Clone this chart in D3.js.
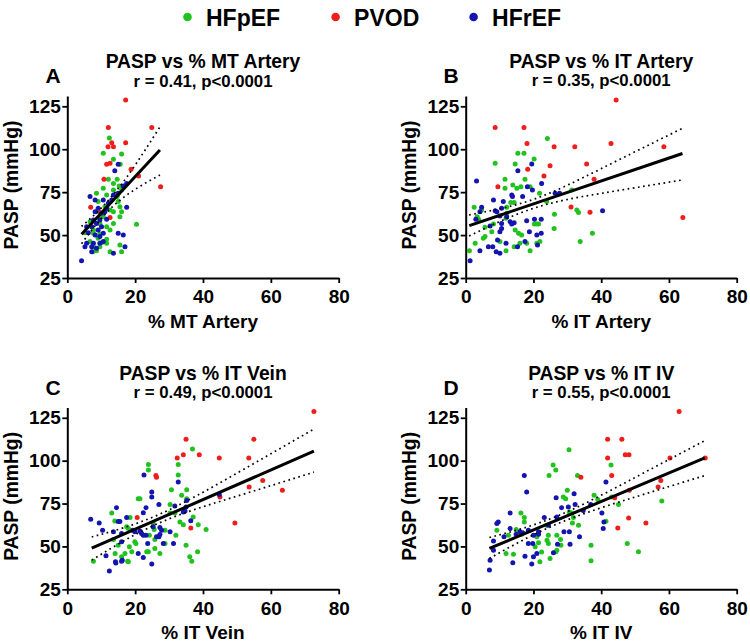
<!DOCTYPE html>
<html>
<head>
<meta charset="utf-8">
<script src="https://cdn.jsdelivr.net/npm/d3@7"></script>
<style>
  html, body { margin: 0; padding: 0; background: #fff; }
  svg { display: block; }
  text { font-family: 'Liberation Sans', Arial, sans-serif; font-weight: bold; fill: #000; }
</style>
</head>
<body>
<svg id="chart" width="750" height="644"></svg>
<script>
// ---------------- DATA ----------------
const groups = ["HFpEF", "PVOD", "HFrEF"];
const groupColors = ["#22c21e", "#f01e1a", "#1414b0"];
const xTicks = [0, 20, 40, 60, 80];
const yTicks = [25, 50, 75, 100, 125];
const panelLetters = ["A", "B", "C", "D"];
const panelTitles = ["PASP vs % MT Artery", "PASP vs % IT Artery", "PASP vs % IT Vein", "PASP vs % IT IV"];
const panelStats = ["r = 0.41, p<0.0001", "r = 0.35, p<0.0001", "r = 0.49, p<0.0001", "r = 0.55, p<0.0001"];
const xTitles = ["% MT Artery", "% IT Artery", "% IT Vein", "% IT IV"];
const yTitle = "PASP (mmHg)";

// Panel A: PASP vs % MT Artery
const A_HFpEF = [[12.4,106.5],[10.6,97.6],[16.0,97.2],[13.6,94.1],[15.6,91.2],[12.1,82.5],[14.7,82.5],[13.6,80.1],[15.3,78.6],[10.6,77.2],[13.6,76.3],[16.0,76.3],[8.6,74.3],[11.6,73.3],[14.7,72.4],[9.1,69.5],[15.0,69.5],[15.5,66.5],[11.1,66.5],[12.6,64.6],[8.6,63.6],[13.6,63.6],[16.0,63.6],[10.6,60.7],[9.6,59.8],[15.5,60.7],[6.7,57.8],[9.6,56.8],[13.6,56.8],[20.4,56.3],[11.6,54.9],[7.7,53.0],[12.6,53.0],[5.2,51.4],[7.7,51.0],[9.6,50.6],[9.1,48.1],[11.6,47.5],[6.7,46.2],[10.1,45.6],[11.6,45.2],[7.7,43.2],[9.6,43.2],[8.6,40.9],[7.5,40.3],[12.6,40.3],[16.0,40.3],[15.5,44.2]];
const A_PVOD = [[17.2,128.7],[12.1,112.6],[24.9,112.6],[13.1,103.8],[12.0,101.5],[13.6,101.5],[17.2,103.8],[11.6,91.2],[12.6,91.8],[18.8,88.3],[10.8,82.5],[21.0,84.4],[27.5,78.2],[6.9,66.2],[9.7,63.1],[12.6,60.3]];
const A_HFrEF = [[15.0,91.2],[14.0,87.5],[17.5,80.1],[16.5,78.6],[13.6,73.3],[15.0,74.3],[6.7,72.4],[8.2,70.4],[10.6,70.4],[12.1,68.5],[13.1,70.4],[9.1,65.6],[11.6,65.6],[8.2,63.6],[10.1,62.7],[11.1,63.6],[17.5,66.2],[9.6,58.8],[11.6,59.2],[7.7,58.8],[8.6,56.8],[5.7,54.9],[7.2,54.9],[10.1,54.9],[9.1,53.0],[6.2,51.4],[8.2,50.0],[10.6,51.0],[9.6,49.1],[15.0,51.0],[16.5,50.0],[10.6,46.2],[5.7,45.2],[7.7,45.2],[9.6,45.2],[7.2,43.2],[8.6,42.3],[5.2,43.2],[7.2,40.3],[13.6,39.4],[17.0,43.2],[4.2,35.1]];
const A_fit = [[4.2,50.5],[27.3,99.5]];
const A_ciUpper = [[4.2,55],[10.6,67],[18,85],[27.3,113]];
const A_ciLower = [[4.2,45],[10.6,61],[18,74],[27.3,85]];

// Panel B: PASP vs % IT Artery
const B_HFpEF = [[24.1,106.3],[8.7,91.8],[15.4,97.6],[17.2,97.6],[14.6,91.4],[20.2,94.3],[17.5,82.5],[11.6,82.5],[13.9,79.2],[11.6,77.2],[15.1,77.2],[16.3,78.2],[19.0,78.2],[21.8,74.3],[31.3,76.3],[2.5,66.2],[3.4,60.7],[3.8,59.2],[4.7,64.6],[5.7,54.5],[8.2,56.5],[7.7,52.0],[12.1,66.2],[13.3,68.9],[14.3,68.9],[12.1,62.7],[11.9,59.8],[14.6,53.0],[15.6,51.0],[16.5,50.0],[16.0,45.2],[18.0,45.2],[19.0,40.9],[21.0,45.2],[21.9,46.2],[23.9,69.5],[26.2,62.1],[26.1,53.9],[21.0,56.5],[20.3,56.5],[21.5,56.5],[32.8,64.6],[33.3,63.2],[37.4,51.0],[33.8,46.2],[1.1,40.9],[2.8,45.2],[5.2,48.1],[5.7,49.1],[10.1,46.2],[11.9,40.9],[14.3,43.2]];
const B_PVOD = [[44.4,128.7],[8.7,112.6],[17.2,112.6],[18.1,103.4],[42.9,103.4],[26.1,101.5],[32.2,101.5],[58.5,101.5],[18.3,88.3],[24.9,90.4],[35.7,91.4],[23.1,84.4],[37.9,82.5],[9.5,78.2],[31.1,66.4],[36.7,63.3],[64.1,60.3]];
const B_HFrEF = [[3.2,81.5],[15.4,87.5],[19.5,91.4],[22.4,80.1],[18.2,78.2],[19.7,76.3],[16.8,72.4],[13.6,73.3],[13.8,72.4],[8.2,70.4],[11.1,69.5],[10.6,65.6],[8.7,64.2],[9.2,63.6],[4.7,66.2],[3.0,59.2],[4.2,63.6],[10.1,61.1],[12.1,60.7],[13.1,57.8],[13.6,56.5],[14.3,57.2],[10.6,56.8],[10.6,53.9],[7.2,55.3],[10.1,52.0],[18.0,58.4],[20.3,59.2],[22.3,59.2],[18.8,52.0],[21.0,50.0],[22.3,51.0],[17.5,46.2],[21.2,44.2],[15.3,43.2],[9.4,47.1],[11.9,45.2],[6.7,43.2],[8.0,43.2],[4.2,40.9],[9.0,40.3],[10.1,39.4],[26.4,74.3],[27.7,74.3],[40.4,64.2],[1.3,35.1]];
const B_fit = [[1.06,55.5],[64,97.5]];
const B_ciUpper = [[1,61.7],[20,70.8],[40,88.7],[64,112.2]];
const B_ciLower = [[1,49.5],[20,65.6],[40,74.3],[64,82.1]];

// Panel C: PASP vs % IT Vein
const C_HFpEF = [[36.9,106.8],[23.9,97.7],[23.9,94.6],[32.7,97.7],[32.7,91.7],[30.7,83.0],[35.2,83.0],[33.7,79.8],[35.2,77.8],[20.9,77.8],[21.4,77.8],[30.3,74.5],[13.1,69.5],[18.5,66.8],[30.3,69.5],[31.7,69.5],[37.1,67.2],[38.6,62.7],[33.2,64.3],[34.2,62.7],[40.9,59.8],[14.0,64.8],[17.5,61.4],[18.0,60.4],[25.3,63.3],[25.6,59.8],[28.8,59.4],[13.6,54.0],[15.0,50.7],[18.3,49.8],[19.9,52.7],[20.2,51.7],[24.2,56.5],[25.8,54.0],[28.8,51.7],[32.0,56.5],[35.0,50.7],[14.1,45.9],[17.0,45.9],[19.0,46.9],[23.4,46.9],[23.9,46.9],[25.8,48.8],[27.3,45.9],[7.7,41.4],[18.0,41.1],[16.0,44.0],[36.1,44.0],[36.7,41.4],[38.4,46.9],[17.8,41.4]];
const C_PVOD = [[72.7,128.7],[35.0,112.5],[55.0,112.5],[34.2,103.5],[38.9,103.5],[32.4,101.6],[44.8,101.6],[53.5,101.6],[26.1,91.4],[26.3,90.4],[57.6,88.5],[53.6,84.6],[63.4,82.7],[45.0,78.8],[20.6,66.8],[49.4,63.7],[36.4,60.8]];
const C_HFrEF = [[22.6,91.7],[24.9,81.7],[24.9,78.8],[32.7,87.5],[35.2,76.8],[35.0,73.0],[34.7,70.7],[34.2,70.1],[31.7,73.6],[44.8,80.3],[27.0,74.5],[23.2,72.6],[22.4,69.7],[14.5,72.6],[17.5,66.8],[15.5,64.6],[15.0,64.6],[6.9,65.8],[9.4,63.7],[10.4,59.4],[13.6,58.5],[16.0,57.5],[19.3,59.4],[19.9,58.5],[21.4,59.0],[21.9,57.5],[22.4,56.5],[23.2,56.5],[25.3,61.4],[27.3,61.0],[27.8,59.4],[27.3,56.9],[30.3,58.5],[36.4,64.9],[16.0,52.7],[23.7,51.7],[26.3,55.6],[27.0,55.6],[28.3,51.7],[31.3,51.7],[11.4,44.5],[14.2,41.1],[16.2,42.0],[20.9,45.9],[22.4,43.6],[24.9,39.7],[12.4,35.6],[14.3,40.4],[16.0,41.4]];
const C_fit = [[7.2,49],[72.7,105.5]];
const C_ciUpper = [[7.2,55.5],[27,68.6],[50,92.7],[72.7,118.4]];
const C_ciLower = [[7.2,42],[27,63.6],[50,79.3],[72.7,93.3]];

// Panel D: PASP vs % IT IV
const D_HFpEF = [[30.5,106.4],[25.8,97.5],[42.9,97.5],[26.6,94.6],[24.6,91.4],[33.0,91.4],[30.0,82.7],[28.8,78.8],[29.5,77.8],[43.1,78.8],[37.9,79.8],[39.0,77.4],[45.1,74.5],[57.9,76.5],[16.3,69.5],[17.3,66.8],[17.3,64.3],[30.6,70.1],[31.3,69.5],[31.8,66.8],[31.5,63.7],[33.3,62.3],[23.9,62.3],[9.2,59.4],[14.9,59.8],[12.6,56.5],[16.5,57.1],[24.4,56.5],[26.9,56.5],[21.0,55.6],[21.5,52.1],[24.0,53.6],[24.4,51.7],[28.0,54.0],[28.1,50.7],[26.9,47.8],[26.6,46.9],[22.4,46.7],[21.9,41.1],[24.9,43.0],[11.9,45.9],[14.1,45.5],[20.5,49.8],[37.0,50.7],[37.0,41.6],[41.4,64.7],[47.7,51.7],[51.0,46.9]];
const D_PVOD = [[63.0,128.7],[41.9,112.5],[46.1,112.5],[47.1,103.5],[48.2,103.5],[41.9,101.6],[60.3,101.6],[70.7,101.6],[43.1,91.4],[34.0,90.4],[57.6,88.5],[56.8,84.6],[48.3,82.7],[44.0,78.4],[48.1,66.6],[53.2,63.7],[44.9,60.8]];
const D_HFrEF = [[17.3,91.4],[18.0,81.7],[41.4,87.5],[32.0,80.7],[26.7,78.4],[28.3,72.6],[30.3,73.0],[26.9,67.2],[32.3,74.5],[34.7,71.0],[36.9,74.5],[40.2,69.5],[40.6,60.4],[40.8,64.3],[23.2,66.8],[24.4,62.3],[13.1,69.5],[9.6,64.3],[9.2,63.3],[8.2,53.2],[7.2,42.0],[8.2,47.8],[11.3,55.6],[13.1,60.4],[14.9,57.1],[16.0,58.5],[16.8,57.9],[18.5,59.4],[20.0,56.5],[21.5,58.5],[21.5,57.1],[19.8,51.7],[18.5,51.7],[17.5,44.3],[21.0,45.9],[20.0,44.0],[19.5,39.7],[13.9,40.5],[27.1,51.3],[25.9,46.3],[29.0,58.5],[30.6,58.5],[30.8,51.3],[33.6,55.6],[7.0,36.2]];
const D_fit = [[7,48.8],[70.6,101.6]];
const D_ciUpper = [[7,55.2],[27,67.7],[50,90.2],[70.6,111.7]];
const D_ciLower = [[7,43],[27,63.1],[50,78.8],[70.6,91.3]];

// ---------------- LAYOUT ----------------
const svg = d3.select("#chart");
const FONT_AX = 19;

const panels = [
  {pts:[A_HFpEF, A_PVOD, A_HFrEF], fit:A_fit, up:A_ciUpper, lo:A_ciLower, left:67.3, right:338.7, top:96, bottom:278, titleY:68.3, letterX:53},
  {pts:[B_HFpEF, B_PVOD, B_HFrEF], fit:B_fit, up:B_ciUpper, lo:B_ciLower, left:465.7, right:736.7, top:96, bottom:278, titleY:67.5, letterX:451},
  {pts:[C_HFpEF, C_PVOD, C_HFrEF], fit:C_fit, up:C_ciUpper, lo:C_ciLower, left:67.3, right:338.7, top:407.5, bottom:589.3, titleY:379.5, letterX:53},
  {pts:[D_HFpEF, D_PVOD, D_HFrEF], fit:D_fit, up:D_ciUpper, lo:D_ciLower, left:465.7, right:736.7, top:407.5, bottom:589.3, titleY:379.5, letterX:451}
];

// Legend
const legendX = [187.5, 335.6, 473.6];
const leg = svg.append("g");
groups.forEach((g, i) => {
  leg.append("circle").attr("cx", legendX[i]).attr("cy", 17).attr("r", 4.3).attr("fill", groupColors[i]);
  leg.append("text").attr("x", legendX[i] + 18.5).attr("y", 26).attr("font-size", 23).text(g);
});

panels.forEach((p, pi) => {
  const x = d3.scaleLinear().domain([0, 80]).range([p.left, p.right]);
  const y = d3.scaleLinear().domain([25, 131]).range([p.bottom, p.top]);
  const g = svg.append("g");
  const cx = (p.left + p.right) / 2;

  // titles
  g.append("text").attr("x", cx).attr("y", p.titleY).attr("text-anchor", "middle").attr("font-size", 19.3).text(panelTitles[pi]);
  g.append("text").attr("x", cx).attr("y", p.titleY + 18.5).attr("text-anchor", "middle").attr("font-size", 16.8).text(panelStats[pi]);
  g.append("text").attr("x", p.letterX).attr("y", p.titleY + 15).attr("text-anchor", "middle").attr("font-size", 21).text(panelLetters[pi]);

  // axes
  const yAxis = d3.axisLeft(y).tickValues(yTicks).tickSize(5).tickSizeOuter(0).tickPadding(1.5);
  const xAxis = d3.axisBottom(x).tickValues(xTicks).tickSize(5).tickSizeOuter(0).tickPadding(7);
  const ya = g.append("g").attr("transform", `translate(${p.left},0)`).call(yAxis);
  const xa = g.append("g").attr("transform", `translate(0,${p.bottom})`).call(xAxis);
  [ya, xa].forEach(a => {
    a.select(".domain").attr("stroke", "#000").attr("stroke-width", 2);
    a.selectAll(".tick line").attr("stroke", "#000").attr("stroke-width", 1.8);
    a.selectAll(".tick text").attr("font-size", FONT_AX).attr("font-family", "'Liberation Sans', Arial, sans-serif").attr("font-weight", "bold").attr("fill", "#000");
  });

  // axis titles
  g.append("text").attr("x", cx).attr("y", p.bottom + 50).attr("text-anchor", "middle").attr("font-size", FONT_AX).text(xTitles[pi]);
  const ytx = p.left - 49.8, yty = (p.top + p.bottom) / 2 - 2;
  g.append("text").attr("transform", `translate(${ytx},${yty}) rotate(-90)`).attr("text-anchor", "middle").attr("font-size", 19.3).text(yTitle);

  // points
  p.pts.forEach((arr, gi) => {
    g.append("g").selectAll("circle").data(arr).join("circle")
      .attr("cx", d => x(d[0])).attr("cy", d => y(d[1])).attr("r", 2.5)
      .attr("fill", groupColors[gi]);
  });

  // confidence band and fit
  const line = d3.line().x(d => x(d[0])).y(d => y(d[1]));
  const curve = d3.line().x(d => x(d[0])).y(d => y(d[1])).curve(d3.curveNatural);
  [p.up, p.lo].forEach(band => {
    g.append("path").attr("d", curve(band)).attr("fill", "none").attr("stroke", "#000")
      .attr("stroke-width", 1.7).attr("stroke-dasharray", "1.7,3.5").attr("stroke-linecap", "butt");
  });
  g.append("path").attr("d", line(p.fit)).attr("fill", "none").attr("stroke", "#000").attr("stroke-width", 3);
});
</script>
</body>
</html>
